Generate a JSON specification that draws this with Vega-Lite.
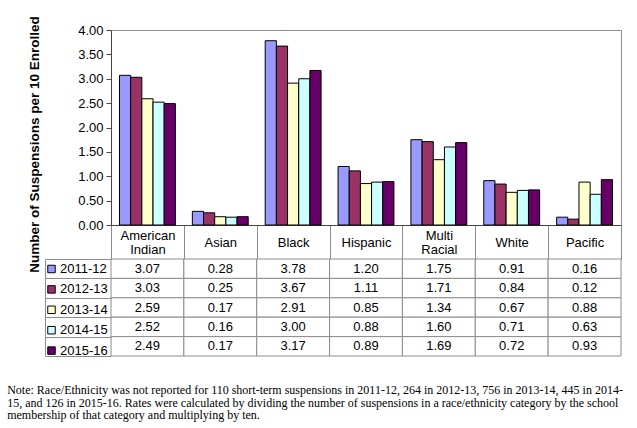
{
  "$schema": "https://vega.github.io/schema/vega-lite/v6.json",
  "padding": {"left": 7, "top": 15, "right": 5, "bottom": 5},
  "background": "white",
  "config": {"font": "Liberation Sans", "view": {"stroke": null}},
  "data": {"values": [
    {"cat": "American Indian", "year": "2011-12", "value": 3.07},
    {"cat": "American Indian", "year": "2012-13", "value": 3.03},
    {"cat": "American Indian", "year": "2013-14", "value": 2.59},
    {"cat": "American Indian", "year": "2014-15", "value": 2.52},
    {"cat": "American Indian", "year": "2015-16", "value": 2.49},
    {"cat": "Asian", "year": "2011-12", "value": 0.28},
    {"cat": "Asian", "year": "2012-13", "value": 0.25},
    {"cat": "Asian", "year": "2013-14", "value": 0.17},
    {"cat": "Asian", "year": "2014-15", "value": 0.16},
    {"cat": "Asian", "year": "2015-16", "value": 0.17},
    {"cat": "Black", "year": "2011-12", "value": 3.78},
    {"cat": "Black", "year": "2012-13", "value": 3.67},
    {"cat": "Black", "year": "2013-14", "value": 2.91},
    {"cat": "Black", "year": "2014-15", "value": 3.00},
    {"cat": "Black", "year": "2015-16", "value": 3.17},
    {"cat": "Hispanic", "year": "2011-12", "value": 1.20},
    {"cat": "Hispanic", "year": "2012-13", "value": 1.11},
    {"cat": "Hispanic", "year": "2013-14", "value": 0.85},
    {"cat": "Hispanic", "year": "2014-15", "value": 0.88},
    {"cat": "Hispanic", "year": "2015-16", "value": 0.89},
    {"cat": "Multi Racial", "year": "2011-12", "value": 1.75},
    {"cat": "Multi Racial", "year": "2012-13", "value": 1.71},
    {"cat": "Multi Racial", "year": "2013-14", "value": 1.34},
    {"cat": "Multi Racial", "year": "2014-15", "value": 1.60},
    {"cat": "Multi Racial", "year": "2015-16", "value": 1.69},
    {"cat": "White", "year": "2011-12", "value": 0.91},
    {"cat": "White", "year": "2012-13", "value": 0.84},
    {"cat": "White", "year": "2013-14", "value": 0.67},
    {"cat": "White", "year": "2014-15", "value": 0.71},
    {"cat": "White", "year": "2015-16", "value": 0.72},
    {"cat": "Pacific", "year": "2011-12", "value": 0.16},
    {"cat": "Pacific", "year": "2012-13", "value": 0.12},
    {"cat": "Pacific", "year": "2013-14", "value": 0.88},
    {"cat": "Pacific", "year": "2014-15", "value": 0.63},
    {"cat": "Pacific", "year": "2015-16", "value": 0.93}
  ]},
  "title": {
    "text": [
      "Note:  Race/Ethnicity was not reported for 110 short-term suspensions in 2011-12, 264 in 2012-13, 756 in 2013-14, 445 in 2014-",
      "15, and 126 in 2015-16.  Rates were calculated by dividing the number of suspensions in a race/ethnicity category by the school",
      "membership of that category and multiplying by ten."
    ],
    "orient": "bottom",
    "anchor": "start",
    "font": "Liberation Serif",
    "fontSize": 12,
    "fontWeight": "normal",
    "color": "black",
    "lineHeight": 12.5,
    "offset": 26,
    "dx": -20
  },
  "spacing": 34,
  "bounds": "flush",
  "resolve": {"scale": {"x": "shared", "y": "independent"}, "legend": {"color": "independent"}},
  "vconcat": [
    {
      "width": 510,
      "height": 195,
      "view": {"stroke": "#8c8c8c"},
      "mark": {"type": "bar", "stroke": "black", "strokeWidth": 1},
      "encoding": {
        "x": {
          "field": "cat", "type": "nominal",
          "sort": ["American Indian", "Asian", "Black", "Hispanic", "Multi Racial", "White", "Pacific"],
          "scale": {"paddingInner": 0, "paddingOuter": 0},
          "axis": {
            "title": null, "orient": "bottom", "tickBand": "extent", "tickSize": 34,
            "tickColor": "#8c8c8c", "domainColor": "#444",
            "labelPadding": {"condition": {"test": "datum.value == 'American Indian' || datum.value == 'Multi Racial'", "value": -24}, "value": -17},
            "labelBaseline": "middle", "labelFontSize": 13, "labelColor": "black",
            "labelLineHeight": 14, "labelAngle": 0, "labelLimit": 0,
            "labelExpr": "datum.label == 'American Indian' ? ['American', 'Indian'] : datum.label == 'Multi Racial' ? ['Multi', 'Racial'] : datum.label"
          }
        },
        "xOffset": {
          "field": "year", "type": "nominal",
          "sort": ["2011-12", "2012-13", "2013-14", "2014-15", "2015-16"],
          "scale": {"paddingInner": 0, "paddingOuter": 0.76}
        },
        "y": {
          "field": "value", "type": "quantitative",
          "scale": {"domain": [0, 4], "nice": false},
          "axis": {
            "values": [0, 0.5, 1, 1.5, 2, 2.5, 3, 3.5, 4], "format": ".2f",
            "title": "Number of Suspensions per 10 Enrolled",
            "titleFontSize": 13.5, "titleFontWeight": "bold", "titleColor": "black",
            "titlePadding": 36, "titleY": 114,
            "labelFontSize": 13, "labelColor": "black", "labelPadding": 3,
            "tickSize": 5, "tickColor": "#444", "domainColor": "#444", "grid": false
          }
        },
        "color": {
          "field": "year", "type": "nominal",
          "scale": {"domain": ["2011-12", "2012-13", "2013-14", "2014-15", "2015-16"],
                    "range": ["#9999FF", "#993366", "#FFFFCC", "#CCFFFF", "#660066"]},
          "legend": {
            "orient": "none", "legendX": -66, "legendY": 232.5, "title": null,
            "symbolType": "square", "symbolSize": 56, "symbolStrokeColor": "black",
            "symbolStrokeWidth": 1, "labelFontSize": 13, "labelColor": "black",
            "labelOffset": 2, "rowPadding": 6.4, "padding": 0
          }
        }
      }
    },
    {
      "width": 510,
      "height": 97,
      "encoding": {
        "x": {
          "field": "cat", "type": "nominal",
          "sort": ["American Indian", "Asian", "Black", "Hispanic", "Multi Racial", "White", "Pacific"],
          "axis": null
        },
        "y": {
          "field": "year", "type": "nominal",
          "sort": ["2011-12", "2012-13", "2013-14", "2014-15", "2015-16"],
          "scale": {"paddingInner": 0, "paddingOuter": 0},
          "axis": {
            "orient": "left", "offset": 66, "tickSize": -66, "tickBand": "extent",
            "labels": false, "title": null, "tickColor": "#8c8c8c", "domainColor": "#8c8c8c"
          }
        }
      },
      "layer": [
        {"mark": {"type": "rect", "fill": "white", "stroke": "#8c8c8c", "strokeWidth": 1}},
        {
          "mark": {"type": "text", "fontSize": 13, "color": "black"},
          "encoding": {"text": {"field": "value", "type": "quantitative", "format": ".2f"}}
        }
      ]
    }
  ]
}
